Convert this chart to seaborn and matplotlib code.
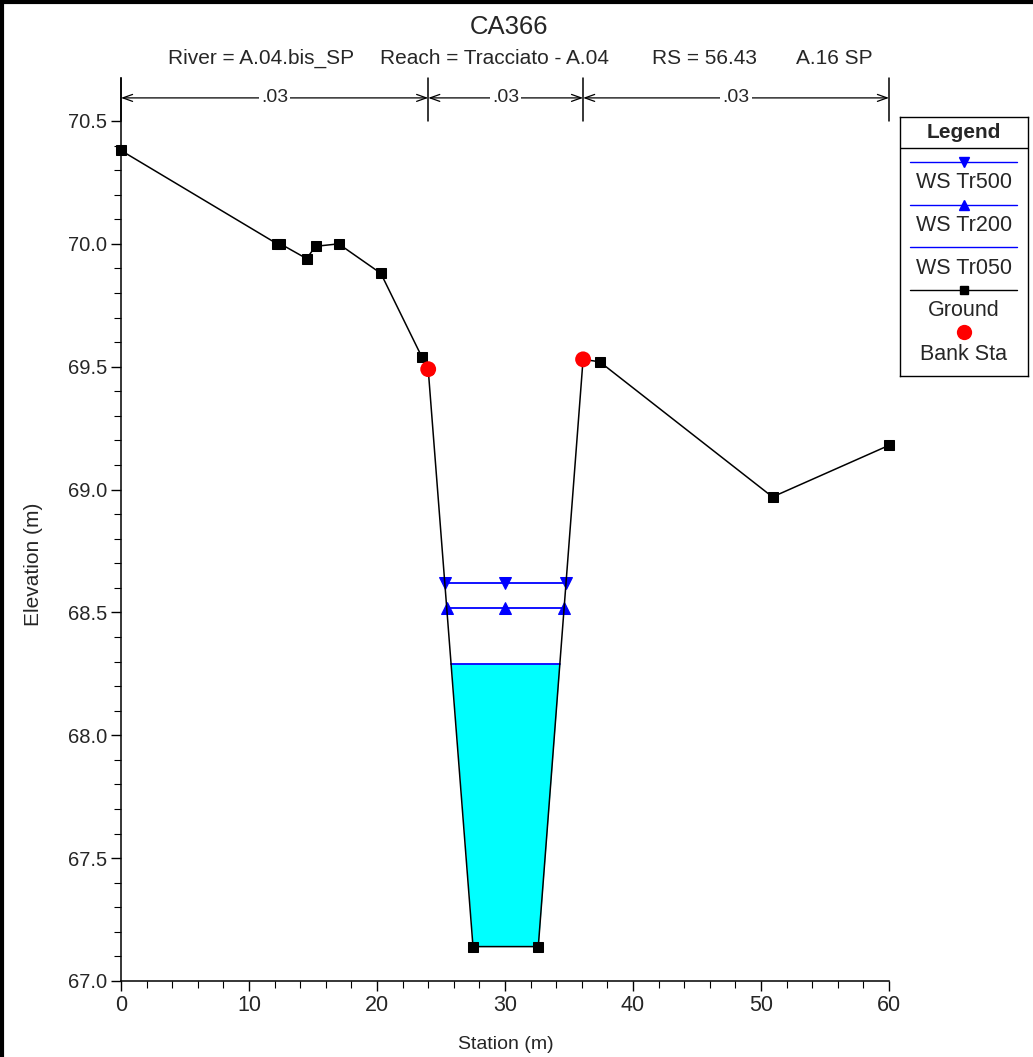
import numpy as np
import pandas as pd
import seaborn as sns
import matplotlib.pyplot as plt
import matplotlib.ticker as ticker

# Cross section data
ground_sta = [0.0, 12.2, 12.45, 14.5, 15.2, 17.0, 20.3, 23.5, 24.0, 27.5, 32.6, 36.1, 37.4, 50.9, 60.0]
ground_elev = [70.38, 70.00, 70.00, 69.94, 69.99, 70.00, 69.88, 69.54, 69.49, 67.14, 67.14, 69.53, 69.52, 68.97, 69.18]
bank_sta = [24.0, 36.1]
bank_elev = [69.49, 69.53]
ws_names = ['WS Tr500', 'WS Tr200', 'WS Tr050']
ws_elev = [68.62, 68.52, 68.29]
ws_markers = ['v', '^', None]
n_sta = [0.0, 24.0, 36.1, 60.0]
n_val = ['.03', '.03', '.03']

sns.set_style('ticks')
plt.rcParams['font.family'] = ['Liberation Sans', 'DejaVu Sans']

fig = plt.figure(figsize=(10.33, 10.57), dpi=100)
ax = fig.add_axes([121/1033, 1-981/1057, 768/1033, 903/1057])


def ws_edges(level):
    # where the water level meets the channel walls
    gx = np.array(ground_sta)
    gy = np.array(ground_elev)
    inside = (gx >= bank_sta[0]) & (gx <= bank_sta[1])
    cx, cy = gx[inside], gy[inside]
    left = np.interp(level, cy[:2][::-1], cx[:2][::-1])
    right = np.interp(level, cy[-2:], cx[-2:])
    return left, right, cx, cy


# water fill for the lowest profile
l, r, cx, cy = ws_edges(ws_elev[2])
below = cy < ws_elev[2]
fx = np.concatenate([[l], cx[below], [r]])
fy = np.concatenate([[ws_elev[2]], cy[below], [ws_elev[2]]])
ax.fill_between(fx, fy, ws_elev[2], color='#00FFFF', zorder=1, lw=0)

# water surfaces
for name, lev, mk in zip(ws_names, ws_elev, ws_markers):
    l, r, _, _ = ws_edges(lev)
    wdf = pd.DataFrame({'x': [l, (l + r) / 2, r], 'y': [lev] * 3})
    sns.lineplot(data=wdf, x='x', y='y', ax=ax, color='#0000FF', lw=1.3, sort=False,
                 estimator=None, marker=mk, markersize=8, markeredgecolor='#0000FF', zorder=3)

# ground
gdf = pd.DataFrame({'sta': ground_sta, 'elev': ground_elev})
sns.lineplot(data=gdf, x='sta', y='elev', ax=ax, color='black', lw=1.1, sort=False,
             estimator=None, marker='s', markersize=6.5, markeredgecolor='black', zorder=4, clip_on=False)

# bank stations
bdf = pd.DataFrame({'sta': bank_sta, 'elev': bank_elev})
sns.scatterplot(data=bdf, x='sta', y='elev', ax=ax, color='#FF0000', s=130, edgecolor='none', zorder=5)

# Manning n bands above the plot
y_top = 70.675
y_arrow = 70.594
for s in n_sta:
    ax.plot([s, s], [70.5, y_top], color='black', lw=1.1, clip_on=False)
for i, v in enumerate(n_val):
    ax.annotate('', xy=(n_sta[i + 1], y_arrow), xytext=(n_sta[i], y_arrow),
                arrowprops=dict(arrowstyle='<->,head_length=0.7,head_width=0.25', lw=0.9, color='black',
                                shrinkA=0, shrinkB=0), annotation_clip=False)
    ax.text((n_sta[i] + n_sta[i + 1]) / 2, y_arrow, v, ha='center', va='center', fontsize=14,
            bbox=dict(facecolor='white', edgecolor='none', pad=1.5), zorder=6)

ax.set_xlim(0, 60)
ax.set_ylim(67.0, y_top)
ax.set_xticks(np.arange(0, 61, 10))
ax.set_xticks(np.arange(0, 61, 2), minor=True)
ax.set_yticks(np.arange(67.0, 70.51, 0.5))
ax.set_yticks(np.arange(67.0, 70.51, 0.1), minor=True)
ax.yaxis.set_major_formatter(ticker.FormatStrFormatter('%.1f'))
ax.tick_params(axis='both', which='major', length=7, width=1, color='black', labelsize=14.5, pad=3)
ax.tick_params(axis='x', which='major', labelsize=15.5)
ax.tick_params(axis='both', which='minor', length=5, width=0.8, color='black')
sns.despine(ax=ax, top=True, right=True)
for sp in ['left', 'bottom']:
    ax.spines[sp].set_color('black')
    ax.spines[sp].set_linewidth(1.1)

ax.set_xlabel('Station (m)', fontsize=14)
ax.set_ylabel('Elevation (m)', fontsize=15)
ax.xaxis.set_label_coords(0.501, -0.061)
ax.yaxis.set_label_coords(-0.101, 0.461)

# title lines
fig.text(509/1033, 1-27/1057, 'CA366', ha='center', va='center', fontsize=18.5)
sub_text = ['River = A.04.bis_SP', 'Reach = Tracciato - A.04', 'RS = 56.43', 'A.16 SP']
sub_x = [261, 494, 704, 834]
for t, xp in zip(sub_text, sub_x):
    fig.text(xp/1033, 1-58/1057, t, ha='center', va='center', fontsize=15)

# legend box
lax = fig.add_axes([900/1033, 1-376/1057, 128/1033, 259/1057])
lax.set_xlim(0, 128)
lax.set_ylim(259, 0)
lax.set_xticks([])
lax.set_yticks([])
for sp in lax.spines.values():
    sp.set_color('black')
    sp.set_linewidth(1)
lax.text(64, 16, 'Legend', ha='center', va='center', fontsize=15, fontweight='bold')
lax.plot([0, 128], [31, 31], color='black', lw=1)
leg_items = [('WS Tr500', '#0000FF', 'v'), ('WS Tr200', '#0000FF', '^'),
             ('WS Tr050', '#0000FF', None), ('Ground', 'black', 's')]
for k, (name, col, mk) in enumerate(leg_items):
    yl = 45 + 42.5 * k
    lax.plot([10, 117], [yl, yl], color=col, lw=1.0)
    if mk:
        lax.plot([64], [yl], marker=mk, color=col, markersize=7 if mk != 's' else 6)
    lax.text(64, yl + 21, name, ha='center', va='center', fontsize=15.5)
lax.plot([64], [215], marker='o', color='#FF0000', markersize=11, markeredgecolor='none')
lax.text(64, 237, 'Bank Sta', ha='center', va='center', fontsize=15.5)

# outer frame lines (top and left)
fig.add_artist(plt.Line2D([0, 1], [1-2/1057, 1-2/1057], color='black', lw=3, transform=fig.transFigure))
fig.add_artist(plt.Line2D([2/1033, 2/1033], [0, 1], color='black', lw=3, transform=fig.transFigure))

fig.savefig('out.png', dpi=100)
